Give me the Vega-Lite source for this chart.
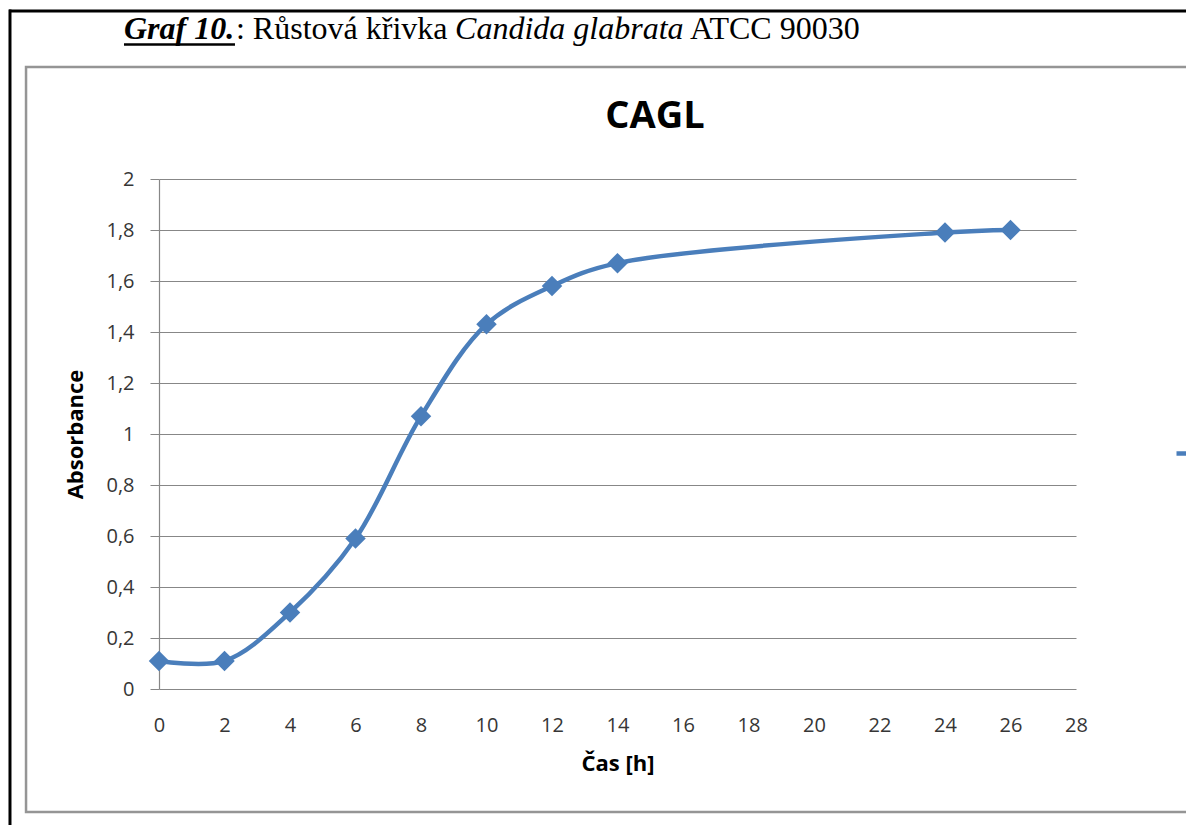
{
  "$schema": "https://vega.github.io/schema/vega-lite/v6.json",
  "width": 917,
  "height": 510,
  "autosize": "none",
  "padding": {"left": 159, "top": 179, "right": 110, "bottom": 136},
  "background": "white",
  "config": {
    "view": {"stroke": null},
    "axis": {
      "labelFont": "Open Sans",
      "labelFontSize": 20,
      "labelColor": "#363636",
      "titleFont": "Open Sans",
      "titleFontSize": 22,
      "titleFontWeight": "bold",
      "titleColor": "#000000",
      "domainColor": "#878787",
      "gridColor": "#878787",
      "tickColor": "#878787",
      "gridWidth": 1,
      "domainWidth": 1.2,
      "tickWidth": 1
    }
  },
  "datasets": {
    "growth": [
      {"hour": 0, "absorbance": 0.11, "series": "CAGL"},
      {"hour": 2, "absorbance": 0.11, "series": "CAGL"},
      {"hour": 4, "absorbance": 0.30, "series": "CAGL"},
      {"hour": 6, "absorbance": 0.59, "series": "CAGL"},
      {"hour": 8, "absorbance": 1.07, "series": "CAGL"},
      {"hour": 10, "absorbance": 1.43, "series": "CAGL"},
      {"hour": 12, "absorbance": 1.58, "series": "CAGL"},
      {"hour": 14, "absorbance": 1.67, "series": "CAGL"},
      {"hour": 24, "absorbance": 1.79, "series": "CAGL"},
      {"hour": 26, "absorbance": 1.80, "series": "CAGL"}
    ],
    "caption": [
      {"part": "number", "label": "Graf 10."},
      {"part": "lead", "label": ": Růstová křivka"},
      {"part": "species", "label": "Candida glabrata"},
      {"part": "strain", "label": "ATCC 90030"},
      {"part": "title", "label": "CAGL"}
    ],
    "frame": [
      {"edge": "box"}
    ]
  },
  "layer": [
    {
      "data": {"name": "growth"},
      "mark": {"type": "line", "interpolate": "catmull-rom", "strokeWidth": 4.5},
      "encoding": {
        "x": {
          "field": "hour",
          "type": "quantitative",
          "title": "Čas [h]",
          "scale": {"domain": [0, 28], "nice": false, "zero": false},
          "axis": {
            "values": [0, 2, 4, 6, 8, 10, 12, 14, 16, 18, 20, 22, 24, 26, 28],
            "grid": false,
            "ticks": false,
            "domain": false,
            "labelPadding": 26,
            "titlePadding": 18,
            "labelFlush": false
          }
        },
        "y": {
          "field": "absorbance",
          "type": "quantitative",
          "title": "Absorbance",
          "scale": {"domain": [0, 2], "nice": false, "zero": false},
          "axis": {
            "values": [0, 0.2, 0.4, 0.6, 0.8, 1, 1.2, 1.4, 1.6, 1.8, 2],
            "labelExpr": "replace(format(datum.value, '~g'), '.', ',')",
            "grid": true,
            "ticks": true,
            "tickSize": 9,
            "labelPadding": 16,
            "titlePadding": 18,
            "labelFlush": false
          }
        },
        "color": {
          "field": "series",
          "type": "nominal",
          "scale": {"range": ["#4a7ebb"]},
          "legend": {
            "orient": "none",
            "legendX": 1015,
            "legendY": 252,
            "title": null,
            "symbolType": "stroke",
            "symbolSize": 1600,
            "symbolStrokeWidth": 4.5,
            "labelFont": "Open Sans",
            "labelFontSize": 20,
            "padding": 0
          }
        }
      }
    },
    {
      "data": {"name": "growth"},
      "mark": {"type": "point", "shape": "diamond", "filled": true, "size": 420, "color": "#4a7ebb", "opacity": 1},
      "encoding": {
        "x": {"field": "hour", "type": "quantitative"},
        "y": {"field": "absorbance", "type": "quantitative"}
      }
    },
    {
      "data": {"name": "frame"},
      "mark": {"type": "rect", "fill": "transparent", "stroke": "#959595", "strokeWidth": 2.5, "clip": false},
      "encoding": {
        "x": {"datum": -4.06, "type": "quantitative"},
        "x2": {"datum": 32},
        "y": {"datum": 2.439, "type": "quantitative"},
        "y2": {"datum": -0.482}
      }
    },
    {
      "data": {"name": "frame"},
      "mark": {"type": "rule", "color": "#000000", "strokeWidth": 3, "clip": false},
      "encoding": {
        "x": {"datum": -4.58, "type": "quantitative"},
        "x2": {"datum": 32},
        "y": {"datum": 2.659, "type": "quantitative"}
      }
    },
    {
      "data": {"name": "frame"},
      "mark": {"type": "rule", "color": "#000000", "strokeWidth": 3, "clip": false},
      "encoding": {
        "x": {"datum": -4.55, "type": "quantitative"},
        "y": {"datum": 2.665, "type": "quantitative"},
        "y2": {"datum": -0.6}
      }
    },
    {
      "data": {"name": "caption"},
      "transform": [{"filter": "datum.part === 'title'"}],
      "mark": {"type": "text", "font": "Open Sans", "fontSize": 38, "fontWeight": "bold", "align": "center", "baseline": "alphabetic", "color": "#000000", "clip": false},
      "encoding": {
        "x": {"datum": 15.145, "type": "quantitative"},
        "y": {"datum": 2.2, "type": "quantitative"},
        "text": {"field": "label"}
      }
    },
    {
      "data": {"name": "caption"},
      "transform": [{"filter": "datum.part === 'number'"}],
      "mark": {"type": "text", "font": "Liberation Serif", "fontSize": 32, "fontWeight": "bold", "fontStyle": "italic", "align": "left", "baseline": "alphabetic", "color": "#000000", "clip": false},
      "encoding": {
        "x": {"datum": -1.069, "type": "quantitative"},
        "y": {"datum": 2.549, "type": "quantitative"},
        "text": {"field": "label"}
      }
    },
    {
      "data": {"name": "frame"},
      "mark": {"type": "rule", "color": "#000000", "strokeWidth": 2.5, "clip": false},
      "encoding": {
        "x": {"datum": -1.069, "type": "quantitative"},
        "x2": {"datum": 2.32},
        "y": {"datum": 2.527, "type": "quantitative"}
      }
    },
    {
      "data": {"name": "caption"},
      "transform": [{"filter": "datum.part === 'lead'"}],
      "mark": {"type": "text", "font": "Liberation Serif", "fontSize": 32, "align": "left", "baseline": "alphabetic", "color": "#000000", "clip": false},
      "encoding": {
        "x": {"datum": 2.35, "type": "quantitative"},
        "y": {"datum": 2.549, "type": "quantitative"},
        "text": {"field": "label"}
      }
    },
    {
      "data": {"name": "caption"},
      "transform": [{"filter": "datum.part === 'species'"}],
      "mark": {"type": "text", "font": "Liberation Serif", "fontSize": 32, "fontStyle": "italic", "align": "left", "baseline": "alphabetic", "color": "#000000", "clip": false},
      "encoding": {
        "x": {"datum": 9.04, "type": "quantitative"},
        "y": {"datum": 2.549, "type": "quantitative"},
        "text": {"field": "label"}
      }
    },
    {
      "data": {"name": "caption"},
      "transform": [{"filter": "datum.part === 'strain'"}],
      "mark": {"type": "text", "font": "Liberation Serif", "fontSize": 32, "align": "left", "baseline": "alphabetic", "color": "#000000", "clip": false},
      "encoding": {
        "x": {"datum": 16.21, "type": "quantitative"},
        "y": {"datum": 2.549, "type": "quantitative"},
        "text": {"field": "label"}
      }
    }
  ]
}
